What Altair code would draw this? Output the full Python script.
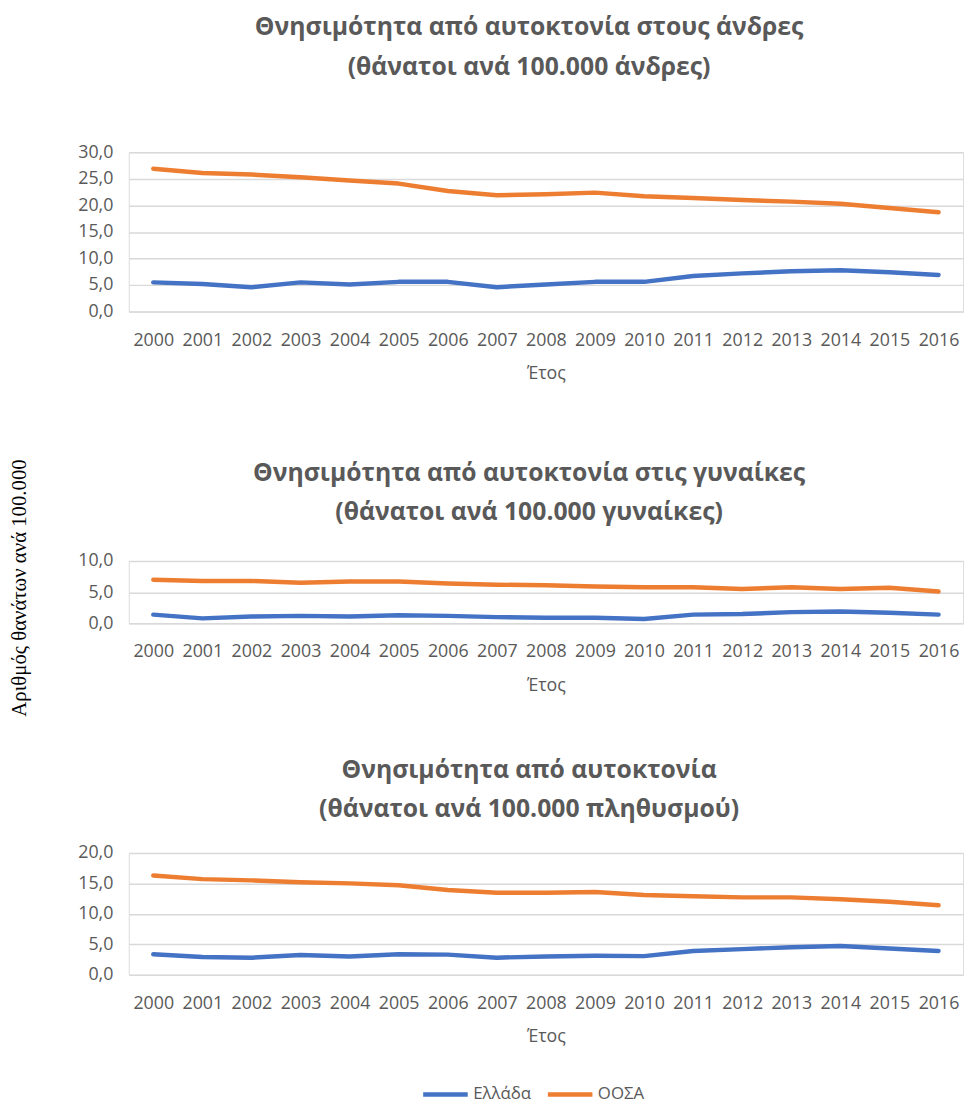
import altair as alt
import pandas as pd

years = [str(y) for y in range(2000, 2017)]
series_names = ["Ελλάδα", "ΟΟΣΑ"]
series_colors = ["#4472C4", "#ED7D31"]

men_greece = [5.5, 5.2, 4.6, 5.5, 5.1, 5.6, 5.6, 4.6, 5.1, 5.6, 5.6, 6.7, 7.2, 7.6, 7.8, 7.4, 6.9]
men_oecd = [26.9, 26.1, 25.8, 25.3, 24.7, 24.1, 22.7, 21.9, 22.1, 22.4, 21.7, 21.4, 21.0, 20.7, 20.3, 19.5, 18.7]
women_greece = [1.4, 0.8, 1.1, 1.2, 1.1, 1.3, 1.2, 1.0, 0.9, 0.9, 0.7, 1.4, 1.5, 1.8, 1.9, 1.7, 1.4]
women_oecd = [7.0, 6.8, 6.8, 6.5, 6.7, 6.7, 6.4, 6.2, 6.1, 5.9, 5.8, 5.8, 5.5, 5.8, 5.5, 5.7, 5.1]
total_greece = [3.35, 2.9, 2.8, 3.25, 3.0, 3.35, 3.3, 2.8, 3.0, 3.1, 3.05, 3.9, 4.2, 4.5, 4.7, 4.3, 3.9]
total_oecd = [16.3, 15.7, 15.5, 15.2, 15.0, 14.7, 13.9, 13.45, 13.45, 13.6, 13.1, 12.9, 12.7, 12.7, 12.4, 12.0, 11.4]

titles = [
    ["Θνησιμότητα από αυτοκτονία στους άνδρες", "(θάνατοι ανά 100.000 άνδρες)"],
    ["Θνησιμότητα από αυτοκτονία στις γυναίκες", "(θάνατοι ανά 100.000 γυναίκες)"],
    ["Θνησιμότητα από αυτοκτονία", "(θάνατοι ανά 100.000 πληθυσμού)"],
]
y_ticks = [[0, 5, 10, 15, 20, 25, 30], [0, 5, 10], [0, 5, 10, 15, 20]]
x_title = "Έτος"
y_title = "Αριθμός θανάτων ανά 100.000"

FONT = "Open Sans"
GREY = "#595959"
W = 843


def long_df(g, o):
    return pd.DataFrame({
        "year": years * 2,
        "series": [series_names[0]] * len(years) + [series_names[1]] * len(years),
        "value": g + o,
    })


legend = alt.Legend(title=None, orient="none", direction="horizontal",
                    legendX=295, legendY=927, symbolType="stroke", symbolSize=2025,
                    symbolStrokeWidth=4.5, labelFont=FONT, labelFontSize=17,
                    labelColor=GREY, columnPadding=7, labelOffset=3)


def panel(df, title, ticks, height, toff):
    return alt.Chart(df).mark_line(strokeWidth=4.5, strokeJoin="round", strokeCap="round").encode(
        x=alt.X("year:O", sort=years, scale=alt.Scale(type="point", padding=0.5),
                axis=alt.Axis(title=x_title, labelAngle=0, grid=False, domain=False, ticks=False,
                              labelPadding=20, labelFontSize=18, labelColor=GREY, labelFont=FONT,
                              titleFont=FONT, titleFontSize=18, titleFontWeight="normal",
                              titleColor=GREY, titlePadding=16)),
        y=alt.Y("value:Q", scale=alt.Scale(domain=[min(ticks), max(ticks)], nice=False),
                axis=alt.Axis(values=ticks, labelExpr="replace(format(datum.value, '.1f'), '.', ',')",
                              domain=False, ticks=False, gridColor="#d9d9d9", gridWidth=1.5,
                              labelPadding=16, labelFontSize=18, labelColor=GREY, labelFont=FONT,
                              title=None)),
        color=alt.Color("series:N", scale=alt.Scale(domain=series_names, range=series_colors),
                        legend=legend),
    ).properties(
        width=W, height=height,
        title=alt.TitleParams(text=title, anchor="middle", dx=-17, offset=toff, font=FONT,
                              fontSize=25, fontWeight="bold", color=GREY, lineHeight=40),
    )


c1 = panel(long_df(men_greece, men_oecd), titles[0], y_ticks[0], 161, 64)
c2 = panel(long_df(women_greece, women_oecd), titles[1], y_ticks[1], 63, 27)
c3 = panel(long_df(total_greece, total_oecd), titles[2], y_ticks[2], 123, 22)

chart = alt.vconcat(
    c1, alt.vconcat(c2, c3, spacing=62), spacing=77,
    title=alt.TitleParams(text=y_title, orient="left", anchor="middle", font="Liberation Serif",
                          fontSize=21, fontWeight="normal", color="#000000", offset=48, dx=-29),
).configure_view(stroke=None).configure(background="white", font=FONT).properties(
    padding={"left": 0, "top": 1, "right": 5, "bottom": 5}
)

chart.save("out.html", embed_options={"renderer": "svg", "actions": False})
